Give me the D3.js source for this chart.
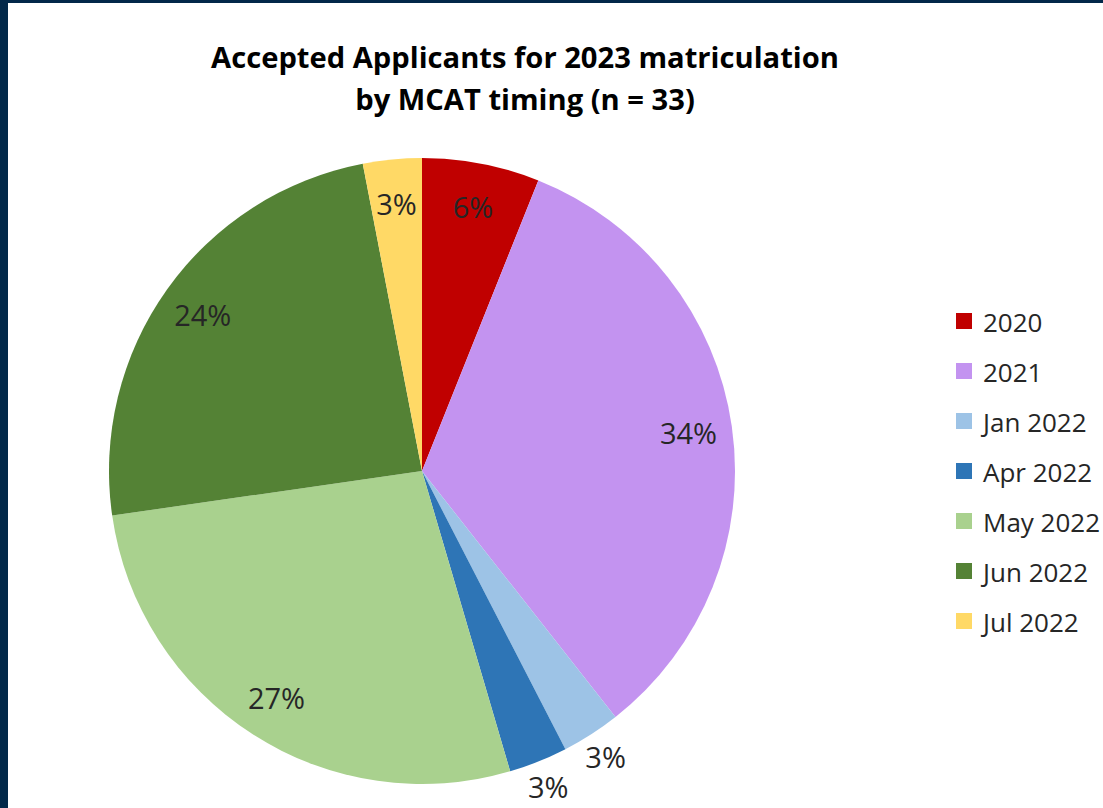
<!DOCTYPE html>
<html>
<head>
<meta charset="utf-8">
<script src="https://cdn.jsdelivr.net/npm/d3@7"></script>
<style>
  html, body { margin: 0; padding: 0; background: #022849; }
  svg { display: block; }
</style>
</head>
<body>
<svg id="chart" width="1103" height="808"></svg>
<script>
const categories = ["2020", "2021", "Jan 2022", "Apr 2022", "May 2022", "Jun 2022", "Jul 2022"];
const counts = [2, 11, 1, 1, 9, 8, 1];
const labels = ["6%", "34%", "3%", "3%", "27%", "24%", "3%"];
const colors = ["#C00000", "#C393F0", "#9DC3E6", "#2E75B6", "#A9D18E", "#548235", "#FFD966"];
const titleLines = ["Accepted Applicants for 2023 matriculation", "by MCAT timing (n = 33)"];

const svg = d3.select("#chart");
const W = 1103, H = 808;
const fontFam = "'Open Sans', 'Liberation Sans', sans-serif";

// white panel with dark frame on left/top
svg.append("rect").attr("x", 8).attr("y", 3).attr("width", W - 8).attr("height", H - 3).attr("fill", "#ffffff");

// title
const tt = svg.append("g").selectAll("text").data(titleLines).join("text")
  .attr("x", 525)
  .attr("y", (d, i) => 68 + i * 42)
  .attr("text-anchor", "middle")
  .attr("font-family", fontFam)
  .attr("font-weight", "bold")
  .attr("font-size", 28)
  .attr("fill", "#000")
  .text(d => d);
// fit first line to the reference width
const w0 = tt.nodes()[0].getComputedTextLength();
if (w0 > 0) {
  const fs = Math.min(32, Math.max(22, 28 * 628 / w0));
  tt.attr("font-size", fs);
}

const cx = 422, cy = 471, R = 313;
const data = categories.map((c, i) => ({ cat: c, value: counts[i], label: labels[i], color: colors[i] }));
const pie = d3.pie().value(d => d.value).sort(null);
const arcs = pie(data);
const arc = d3.arc().innerRadius(0).outerRadius(R);

const g = svg.append("g").attr("transform", `translate(${cx},${cy})`);
g.selectAll("path").data(arcs).join("path")
  .attr("d", arc)
  .attr("fill", d => d.data.color);

const inner = d3.arc().innerRadius(R * 0.86).outerRadius(R * 0.86);
const outer = d3.arc().innerRadius(R * 1.085).outerRadius(R * 1.085);
g.selectAll("text.lbl").data(arcs).join("text")
  .attr("class", "lbl")
  .attr("transform", d => {
    const small = (d.endAngle - d.startAngle) < 0.25 && d.index !== 6;
    const p = (small ? outer : inner).centroid(d);
    return `translate(${p[0]},${p[1]})`;
  })
  .attr("text-anchor", "middle")
  .attr("dominant-baseline", "central")
  .attr("font-family", fontFam)
  .attr("font-size", 29)
  .attr("fill", "#262626")
  .text(d => d.data.label);

// legend
const leg = svg.append("g").attr("transform", "translate(956,321)");
const rows = leg.selectAll("g").data(data).join("g")
  .attr("transform", (d, i) => `translate(0,${i * 50})`);
rows.append("rect").attr("x", 0).attr("y", -8).attr("width", 16).attr("height", 16).attr("fill", d => d.color);
rows.append("text").attr("x", 27).attr("y", 1)
  .attr("dominant-baseline", "central")
  .attr("font-family", fontFam)
  .attr("font-size", 26)
  .attr("fill", "#262626")
  .text(d => d.cat);
</script>
</body>
</html>
